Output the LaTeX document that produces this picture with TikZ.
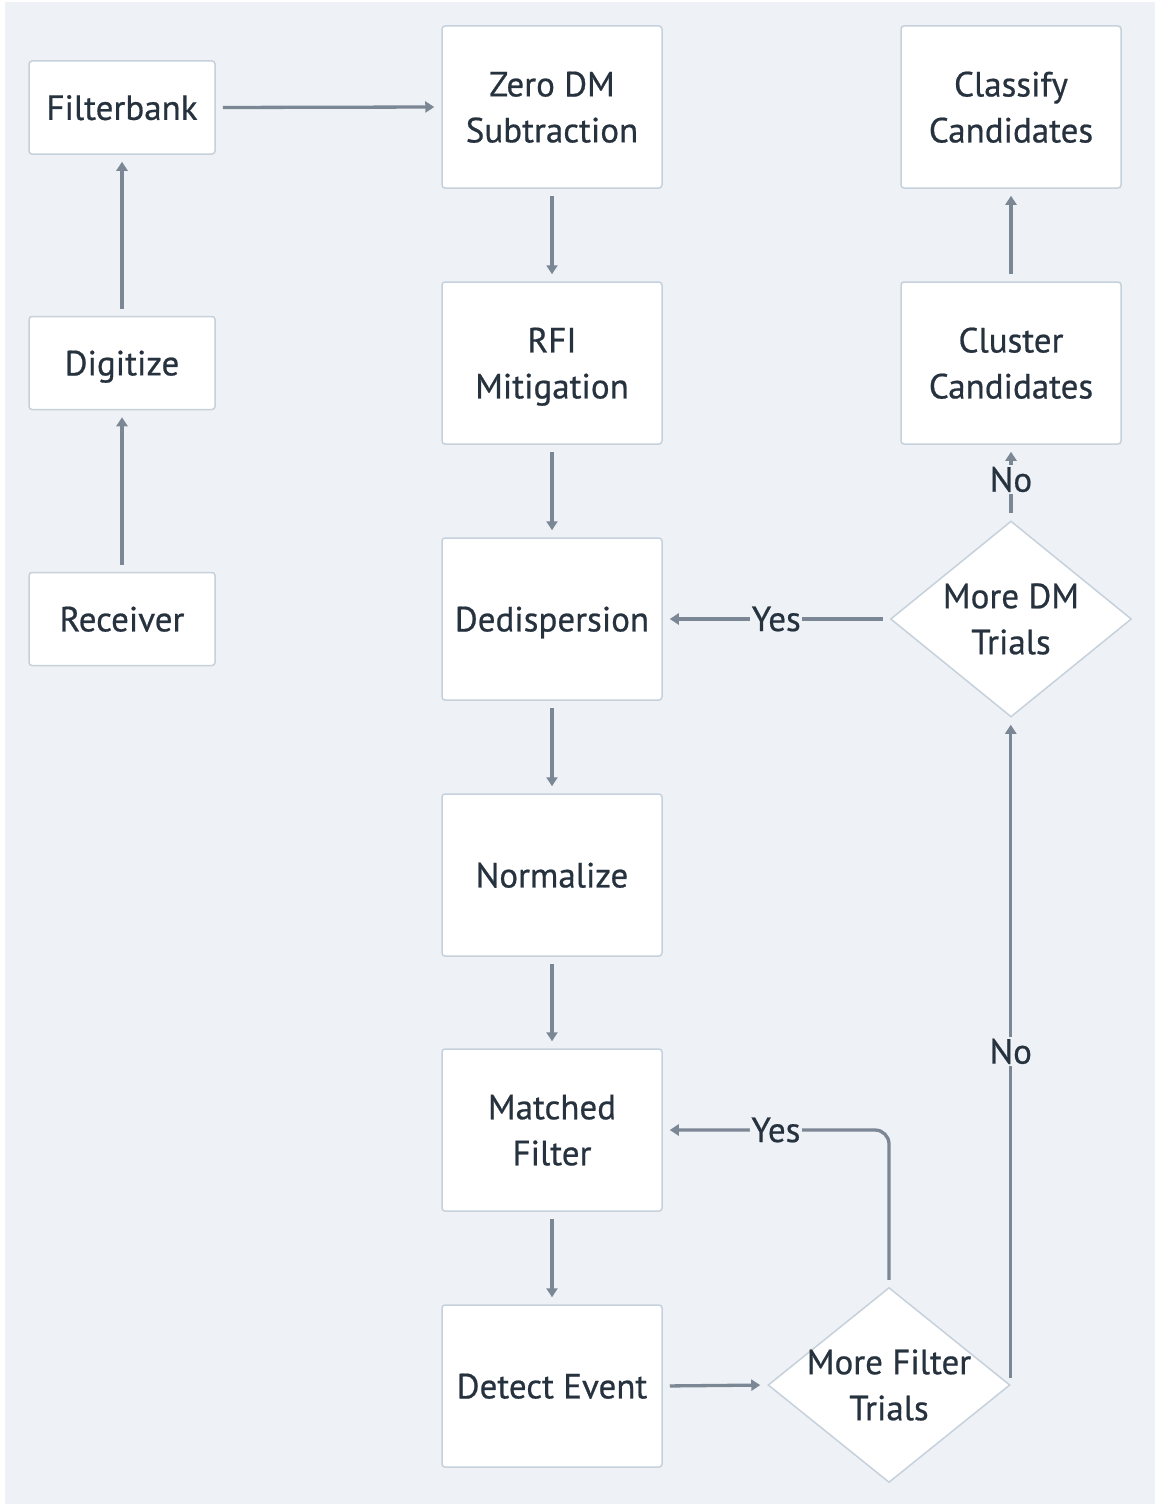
\documentclass[tikz,border=0pt]{standalone}
\usepackage{fontspec}
\setmainfont{PT Sans}[FakeBold=0.6]
\usetikzlibrary{shapes.geometric,arrows.meta}
\definecolor{bgc}{HTML}{EEF2F6}
\definecolor{bordc}{HTML}{C6D1DC}
\definecolor{arrc}{HTML}{7B8794}
\definecolor{txtc}{HTML}{27323F}
\tikzset{
  sbox/.style={draw=bordc, line width=1.5pt, rounded corners=3pt, fill=white, inner sep=0pt, align=center, text=txtc, text depth=0pt, font=\fontsize{35}{46}\selectfont},
  wbox/.style={sbox, minimum width=186pt, minimum height=93pt},
  tbox/.style={sbox, minimum width=220pt, minimum height=162pt},
  dia/.style={diamond, draw=bordc, line width=1.5pt, fill=white, inner sep=0pt},
  dtxt/.style={align=center, text=txtc, font=\fontsize{35}{46}\selectfont, inner sep=0pt},
  arr/.style={draw=arrc, line width=3.3pt, -{Triangle[length=9pt,width=11pt]}, shorten <=7pt, shorten >=7pt},
  lbl/.style={fill=bgc, text=txtc, font=\fontsize{35}{46}\selectfont, inner sep=1.5pt}
}
\begin{document}
\begin{tikzpicture}[x=1pt,y=-1pt]
\useasboundingbox (0,0) rectangle (1155,1504);
\fill[bgc] (5,2) rectangle (1155,1504);
% left column
\node[wbox] (filt) at (122,107.5) {Filterbank};
\node[wbox] (dig) at (122,363) {Digitize};
\node[wbox] (rec) at (122,619) {Receiver};
% middle column
\node[tbox] (zero) at (552,107) {Zero DM\\Subtraction};
\node[tbox] (rfi) at (552,363) {RFI\\Mitigation};
\node[tbox] (ded) at (552,619) {Dedispersion};
\node[tbox] (norm) at (552,875) {Normalize};
\node[tbox] (mf) at (552,1130) {Matched\\Filter};
\node[tbox] (det) at (552,1386) {Detect Event};
% right column
\node[tbox] (cls) at (1011,107) {Classify\\Candidates};
\node[tbox] (clu) at (1011,363) {Cluster\\Candidates};
\node[dia, minimum width=241pt, minimum height=196pt] (dm) at (1011,619) {};
\node[dtxt] (dmt) at (dm) {More DM\\Trials};
\node[dia, minimum width=242pt, minimum height=195pt] (fd) at (889,1385) {};
\node[dtxt] (fdt) at (fd) {More Filter\\Trials};
% connectors
\draw[arr] (rec.north) -- (dig.south);
\draw[arr] (dig.north) -- (filt.south);
\draw[arr] (filt.east) -- (zero.west);
\draw[arr] (zero.south) -- (rfi.north);
\draw[arr] (rfi.south) -- (ded.north);
\draw[arr] (ded.south) -- (norm.north);
\draw[arr] (norm.south) -- (mf.north);
\draw[arr] (mf.south) -- (det.north);
\draw[arr] (det.east) -- (fd.west);
\draw[arr] (dm.west) -- node[lbl]{Yes} (ded.east);
\draw[arr] (dm.north) -- node[lbl, pos=0.54]{No} (clu.south);
\draw[arr] (clu.north) -- (cls.south);
\draw[arr, rounded corners=14pt] (fd.north) |- node[lbl, pos=0.75]{Yes} (mf.east);
\draw[arr] (fd.east) -- node[lbl]{No} (fd.east |- dm.south);
\end{tikzpicture}
\end{document}
